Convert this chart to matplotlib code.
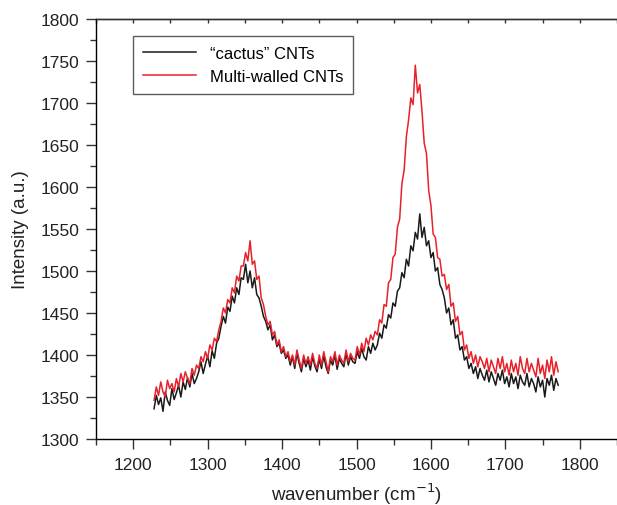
import numpy as np
import matplotlib.pyplot as plt
from matplotlib.ticker import MultipleLocator

plt.rcParams['font.family'] = ['Liberation Sans', 'DejaVu Sans']

x_start, x_end = 1228, 1771

cactus = [
    1336, 1352, 1341, 1349, 1333, 1356, 1346, 1340, 1360, 1347,
    1355, 1364, 1350, 1368, 1359, 1373, 1362, 1378, 1366, 1372,
    1380, 1392, 1378, 1389, 1399, 1386, 1405, 1396, 1414, 1420,
    1434, 1446, 1438, 1457, 1452, 1470, 1462, 1480, 1472, 1492,
    1490, 1508, 1486, 1500, 1480, 1492, 1472, 1468, 1458, 1446,
    1440, 1430, 1436, 1418, 1424, 1410, 1414, 1402, 1406, 1396,
    1400, 1388, 1398, 1384, 1402, 1390, 1380, 1396, 1386, 1394,
    1382, 1398, 1387, 1380, 1395, 1384, 1399, 1386, 1378, 1394,
    1388, 1400, 1383, 1396, 1390, 1386, 1402, 1388, 1398, 1392,
    1390, 1404, 1396, 1408, 1398, 1394, 1410, 1402, 1414, 1406,
    1412, 1426, 1420, 1436, 1432, 1448, 1444, 1462, 1458, 1476,
    1480, 1498, 1492, 1514, 1506, 1530, 1524, 1546, 1538, 1568,
    1540, 1552, 1530, 1536, 1516, 1522, 1500, 1504, 1484, 1478,
    1468, 1450, 1456, 1436, 1442, 1420, 1424, 1406, 1410, 1394,
    1398, 1384, 1390, 1378, 1386, 1372, 1384, 1376, 1370, 1382,
    1368, 1380, 1372, 1364, 1378, 1370, 1382, 1366, 1374, 1362,
    1378, 1366, 1374, 1360, 1376, 1368, 1364, 1378, 1362, 1372,
    1366, 1356, 1374, 1362, 1370, 1350, 1372, 1364, 1376, 1358,
    1372, 1364,
]

mwcnt = [
    1346, 1362, 1352, 1368, 1356, 1350, 1370, 1360, 1366, 1356,
    1372, 1362, 1378, 1368, 1380, 1372, 1366, 1384, 1376, 1388,
    1384, 1398, 1392, 1404, 1396, 1412, 1406, 1420, 1416, 1430,
    1440, 1456, 1450, 1466, 1462, 1480, 1474, 1494, 1488, 1506,
    1506, 1522, 1512, 1536, 1508, 1512, 1490, 1494, 1468, 1460,
    1446, 1436, 1440, 1424, 1428, 1412, 1418, 1404, 1410, 1398,
    1404, 1392, 1400, 1388, 1406, 1394, 1384, 1400, 1390, 1398,
    1388, 1402, 1390, 1384, 1400, 1388, 1404, 1392, 1380, 1398,
    1392, 1404, 1388, 1400, 1394, 1390, 1406, 1392, 1402, 1396,
    1394, 1410, 1400, 1414, 1404, 1420, 1412, 1424, 1418, 1428,
    1424, 1442, 1438, 1460, 1458, 1486, 1490, 1516, 1520, 1552,
    1562, 1604, 1620, 1660, 1680, 1706, 1698, 1745, 1712, 1722,
    1690, 1652, 1640, 1596, 1578, 1544, 1540, 1516, 1514, 1494,
    1496, 1478, 1484, 1458, 1462, 1440, 1446, 1424, 1428, 1406,
    1412, 1396, 1404, 1390, 1400, 1386, 1398, 1392, 1384, 1396,
    1380, 1394, 1386, 1378, 1396, 1384, 1398, 1380, 1390, 1376,
    1394, 1380, 1390, 1376, 1398, 1384, 1378, 1396, 1380, 1390,
    1382, 1374, 1396, 1378, 1388, 1372, 1394, 1380, 1398, 1376,
    1392, 1380,
]

wn_cactus = np.linspace(x_start, x_end, len(cactus))
wn_mwcnt = np.linspace(x_start, x_end, len(mwcnt))

fig = plt.figure(figsize=(6.17, 5.06), dpi=100)
ax = fig.add_axes([0.1556, 0.1304, 0.8444, 0.8301])

ax.plot(wn_cactus, cactus, color='#1a1a1a', lw=1.1, label='\u201ccactus\u201d CNTs')
ax.plot(wn_mwcnt, mwcnt, color='#e8202a', lw=1.1, label='Multi-walled CNTs')

ax.set_xlim(1150, 1850)
ax.set_ylim(1300, 1800)
ax.xaxis.set_major_locator(MultipleLocator(100))
ax.xaxis.set_minor_locator(MultipleLocator(50))
ax.yaxis.set_major_locator(MultipleLocator(50))
ax.yaxis.set_minor_locator(MultipleLocator(25))

ax.spines['right'].set_visible(False)
for s in ['left', 'bottom', 'top']:
    ax.spines[s].set_linewidth(1.0)
    ax.spines[s].set_color('#333333')

ax.tick_params(which='major', direction='out', length=7, width=1.0,
               color='#333333', labelsize=12.5, labelcolor='#222222')
ax.tick_params(which='minor', direction='out', length=4, width=1.0, color='#333333')
ax.tick_params(axis='x', pad=6)
ax.tick_params(axis='y', pad=5)

# top axis: small inward ticks every 50, no labels
top = ax.twiny()
top.set_xlim(ax.get_xlim())
top.xaxis.set_major_locator(MultipleLocator(50))
top.tick_params(axis='x', direction='in', length=3, width=1.0, color='#333333',
                labeltop=False)
top.spines['right'].set_visible(False)
top.spines['top'].set_linewidth(1.0)
top.spines['top'].set_color('#333333')

ax.set_xlabel('wavenumber (cm$^{\u22121}$)', fontsize=13.5, color='#222222', labelpad=6)
ax.set_ylabel('Intensity (a.u.)', fontsize=13.5, color='#222222', labelpad=8)

leg = ax.legend(loc='upper left', bbox_to_anchor=(0.071, 0.96), fontsize=12,
                frameon=True, fancybox=False, edgecolor='#333333',
                handlelength=3.2, borderpad=0.6, labelspacing=0.5,
                borderaxespad=0)
leg.get_frame().set_linewidth(1.0)

fig.savefig('out.png', dpi=100)
